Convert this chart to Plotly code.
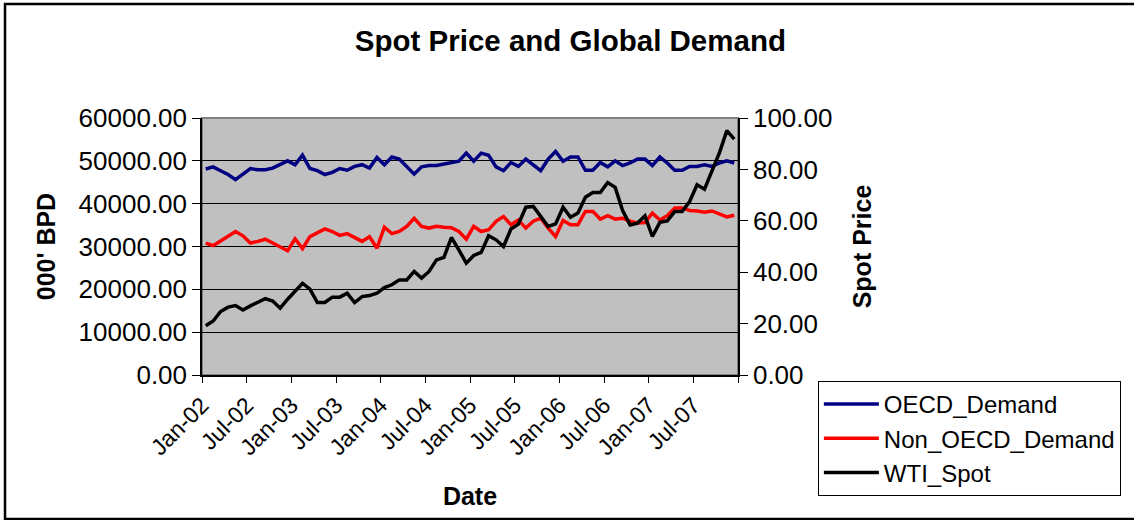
"""Spot price (WTI) vs. OECD / non-OECD demand, monthly 2002-2007."""

import plotly.graph_objects as go

# Monthly points Jan-02 .. Dec-07 (72 values each)
months = [f"{m}-{y:02d}" for y in range(2, 8) for m in
          ["Jan", "Feb", "Mar", "Apr", "May", "Jun",
           "Jul", "Aug", "Sep", "Oct", "Nov", "Dec"]]

oecd_demand = [
    48100, 48600, 47700, 46800, 45600, 46900, 48200, 47900, 47900, 48300, 49100, 50000,
    49100, 51300, 48200, 47700, 46800, 47300, 48200, 47800, 48700, 49100, 48300, 50800,
    49100, 50900, 50400, 48700, 46900, 48600, 48900, 48900, 49300, 49600, 49900, 51800,
    49900, 51800, 51300, 48600, 47700, 49600, 48700, 50400, 49100, 47700, 50400, 52200,
    49900, 50900, 50900, 47800, 47800, 49600, 48600, 50000, 48900, 49500, 50400, 50400,
    48900, 50900, 49500, 47800, 47800, 48700, 48700, 49100, 48700, 49500, 50000, 49500,
]
non_oecd_demand = [
    30800, 30200, 31300, 32300, 33500, 32500, 30800, 31200, 31700, 30800, 29800, 29000,
    31800, 29500, 32300, 33100, 34100, 33500, 32600, 33000, 32100, 31200, 32300, 29600,
    34500, 33000, 33500, 34700, 36600, 34700, 34300, 34700, 34500, 34400, 33500, 31700,
    34700, 33500, 33900, 35900, 37000, 35100, 36200, 34300, 35900, 36600, 34300, 32300,
    36100, 35100, 35100, 38200, 38200, 36400, 37200, 36400, 36600, 35900, 35500, 35600,
    37800, 36200, 37200, 39000, 39000, 38400, 38300, 38000, 38300, 37600, 36900, 37300,
]
wti_spot = [
    19.2, 21.0, 24.7, 26.4, 27.0, 25.3, 26.9, 28.2, 29.7, 28.8, 26.0, 29.5,
    32.5, 35.7, 33.4, 28.2, 28.2, 30.3, 30.3, 31.8, 28.2, 30.5, 30.9, 31.8,
    34.0, 35.1, 37.0, 37.0, 40.3, 37.7, 40.3, 44.8, 45.8, 53.5, 48.7, 43.5,
    46.5, 47.7, 54.2, 52.6, 50.0, 56.8, 58.7, 65.3, 65.6, 61.7, 57.8, 58.8,
    65.3, 61.4, 63.0, 69.2, 71.0, 71.0, 74.9, 73.0, 64.0, 58.4, 59.1, 61.9,
    53.9, 59.4, 60.0, 63.6, 63.6, 67.5, 74.0, 72.3, 79.2, 86.4, 95.1, 91.8,
]

# category axis: one label every 6 months, ticks between categories
tick_labels = months[::6] + [""]
x_idx = list(range(len(months)))
tick_pos = [i - 0.5 for i in range(0, len(months) + 1, 6)]

FONT = "Liberation Sans, Arial, sans-serif"
NAVY = "#000080"

fig = go.Figure()
fig.add_trace(go.Scatter(x=x_idx, y=oecd_demand, name="OECD_Demand",
                         mode="lines", line=dict(color=NAVY, width=3.5),
                         text=months, hovertemplate="%{text}: %{y:.2f}<extra></extra>"))
fig.add_trace(go.Scatter(x=x_idx, y=non_oecd_demand, name="Non_OECD_Demand",
                         mode="lines", line=dict(color="#FF0000", width=3.5),
                         text=months, hovertemplate="%{text}: %{y:.2f}<extra></extra>"))
fig.add_trace(go.Scatter(x=x_idx, y=wti_spot, name="WTI_Spot", yaxis="y2",
                         mode="lines", line=dict(color="#000000", width=3.5),
                         text=months, hovertemplate="%{text}: %{y:.2f}<extra></extra>"))

fig.update_layout(
    width=1134,
    height=520,
    margin=dict(l=202, r=396, t=118, b=145),
    paper_bgcolor="white",
    plot_bgcolor="#C0C0C0",
    font=dict(family=FONT, color="black"),
    title=dict(text="<b>Spot Price and Global Demand</b>",
               font=dict(size=29.5, family=FONT, color="black"),
               x=0.503, xanchor="center", y=0.921, yanchor="middle"),
    showlegend=True,
    legend=dict(x=1.149, y=-0.023, xanchor="left", yanchor="top",
                bgcolor="white", bordercolor="black", borderwidth=1,
                font=dict(size=24, family=FONT), itemwidth=55,
                tracegroupgap=0),
    xaxis=dict(
        range=[-0.5, len(months) - 0.5],
        tickmode="array", tickvals=tick_pos, ticktext=tick_labels,
        tickangle=-45, tickfont=dict(size=23),
        ticks="outside", ticklen=6, tickcolor="black",
        showline=True, linecolor="black", linewidth=1.5,
        showgrid=False, zeroline=False,
        title=dict(text="<b>Date</b>", font=dict(size=25), standoff=28),
    ),
    yaxis=dict(
        range=[0, 60000], dtick=10000, tickformat=".2f",
        tickfont=dict(size=26),
        ticks="outside", ticklen=8, tickcolor="black",
        showline=True, linecolor="black", linewidth=1.5,
        showgrid=True, gridcolor="black", gridwidth=1, zeroline=False,
        title=dict(text="<b>000' BPD</b>", font=dict(size=25), standoff=16),
    ),
    yaxis2=dict(
        overlaying="y", side="right",
        range=[0, 100], dtick=20, tickformat=".2f",
        tickfont=dict(size=26),
        ticks="outside", ticklen=8, tickcolor="black",
        showline=True, linecolor="black", linewidth=1.5,
        showgrid=False, zeroline=False,
        title=dict(text="<b>Spot Price</b>", font=dict(size=25), standoff=22),
    ),
)

# plot-area frame and outer chart border (Excel style; right edge is cut off)
fig.add_shape(type="rect", xref="paper", yref="paper", x0=0, x1=1, y0=0, y1=1,
              line=dict(color="#808080", width=2), layer="below")
fig.add_shape(type="rect", xref="paper", yref="paper",
              x0=-0.3675, x1=1.9, y0=-0.56, y1=1.4436,
              line=dict(color="black", width=2.5))

# drop the default 8px page margin so the figure sits at the window corner
fig.write_html("out.html", config={"displayModeBar": False},
               post_script="document.body.style.margin='0';")
